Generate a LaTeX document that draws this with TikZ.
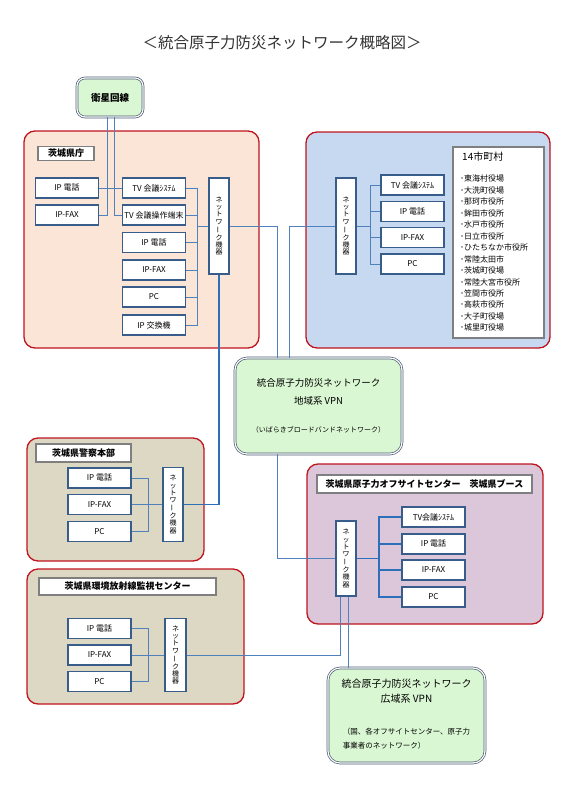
\documentclass[tikz,border=0pt]{standalone}
\usepackage{fontspec}
\setmainfont{Noto Sans CJK JP}
\usepackage{tikz}
\definecolor{vermelho}{HTML}{C0141E}
\definecolor{pessego}{HTML}{FBE5D6}
\definecolor{azulclaro}{HTML}{C6D9F1}
\definecolor{caqui}{HTML}{DDD8C4}
\definecolor{malva}{HTML}{DCC6DA}
\definecolor{verdeclaro}{HTML}{DAF7D3}
\definecolor{ardosia}{HTML}{4A5A70}
\definecolor{azulbox}{HTML}{385D8A}
\definecolor{azulfio}{HTML}{4F81BD}
\definecolor{azulforte}{HTML}{2E6FBA}
\definecolor{cinza}{HTML}{7F7F7F}
\definecolor{texto}{HTML}{333333}
\tikzstyle{regiao}=[draw=vermelho, line width=1.3pt, rounded corners=11pt, inner sep=0pt]
\tikzstyle{caixa}=[draw=azulbox, line width=1.4pt, fill=white, minimum width=63pt, minimum height=20pt, inner sep=0pt, font=\fontsize{8}{9}\selectfont]
\tikzstyle{rede}=[caixa, minimum width=20pt, align=center, font=\fontsize{7}{7.3}\selectfont]
\tikzstyle{rotulo}=[draw=cinza, line width=1.5pt, fill=white, inner sep=0pt, font=\bfseries\fontsize{9}{10}\selectfont]
\tikzstyle{lista}=[draw=cinza, line width=1.5pt, fill=white, inner sep=0pt]
\tikzstyle{nuvem}=[draw=ardosia, double=white, double distance=1.2pt, line width=0.7pt, fill=verdeclaro, rounded corners=12pt, inner sep=0pt]
\tikzstyle{fio}=[draw=azulfio, line width=0.9pt]
\tikzstyle{fiogrosso}=[draw=azulforte, line width=1.3pt]
\newcommand{\redetexto}{ネ\\ッ\\ト\\ワ\\\rotatebox[origin=c]{90}{ー}\\ク\\機\\器}

\begin{document}
\begin{tikzpicture}[x=1pt,y=-1pt]
			\useasboundingbox (0,0) rectangle (565,800);
			\node[text=texto, font=\fontsize{15.5}{17}\selectfont] (titulo) at (282,43) {＜統合原子力防災ネットワーク概略図＞};
			% regioes
			\node[regiao, fill=pessego, minimum width=235pt, minimum height=217pt] (ken) at (141.5,239.5) {};
			\node[regiao, fill=azulclaro, minimum width=244pt, minimum height=216pt] (city) at (428,240) {};
			\node[regiao, fill=caqui, minimum width=177pt, minimum height=123pt] (pol) at (115.5,499.5) {};
			\node[regiao, fill=caqui, minimum width=217pt, minimum height=135pt] (env) at (135.5,636.5) {};
			\node[regiao, fill=malva, minimum width=236pt, minimum height=160pt] (ofc) at (425,544) {};
			% rotulos
			\node[rotulo, minimum width=56pt, minimum height=14pt] (kenL) at (66,153.5) {茨城県庁};
			\node[rotulo, minimum width=95pt, minimum height=18pt] (polL) at (83.5,453) {茨城県警察本部};
			\node[rotulo, minimum width=177pt, minimum height=17pt] (envL) at (127.5,586.5) {茨城県環境放射線監視センター};
			\node[rotulo, minimum width=215pt, minimum height=18pt] (ofcL) at (424.5,484) {茨城県原子力オフサイトセンター　茨城県ブース};
			% redes
			\node[nuvem, rounded corners=8pt, minimum width=66pt, minimum height=39pt, font=\bfseries\fontsize{9.5}{11}\selectfont] (sat) at (110,97.5) {衛星回線};
			\node[nuvem, minimum width=167pt, minimum height=96pt, align=center, font=\fontsize{9.5}{18}\selectfont] (vpnA) at (318.5,406) {統合原子力防災ネットワーク\\地域系 VPN\\[10pt]{\fontsize{7}{8}\selectfont （いばらきブロードバンドネットワーク）}};
			\node[nuvem, minimum width=157pt, minimum height=95pt, align=center, font=\fontsize{10}{15}\selectfont] (vpnB) at (406.5,715.5) {統合原子力防災ネットワーク\\広域系 VPN\\[17pt]{\fontsize{7.5}{14}\selectfont\begin{tabular}[t]{@{}l@{}}（国、各オフサイトセンター、原子力\\事業者のネットワーク）\end{tabular}}};
			% 茨城県庁
			\node[caixa] (kenTel) at (67,188) {IP 電話};
			\node[caixa] (kenFax) at (67,215) {IP-FAX};
			\node[caixa] (kenTva) at (154,188) {TV 会議ｼｽﾃﾑ};
			\node[caixa] (kenTvb) at (154,215) {TV 会議操作端末};
			\node[caixa] (kenTel2) at (154,242.5) {IP 電話};
			\node[caixa] (kenFax2) at (154,270) {IP-FAX};
			\node[caixa] (kenPc) at (154,297) {PC};
			\node[caixa] (kenIpx) at (154,325) {IP 交換機};
			\node[rede, minimum height=96pt] (kenN) at (219,226) {\redetexto};
			% 14市町村
			\node[rede, minimum height=96pt] (cityN) at (346,226) {\redetexto};
			\node[caixa] (cityTv) at (412.5,185) {TV 会議ｼｽﾃﾑ};
			\node[caixa] (cityTel) at (412.5,211.5) {IP 電話};
			\node[caixa] (cityFax) at (412.5,237.5) {IP-FAX};
			\node[caixa] (cityPc) at (412.5,264) {PC};
			\node[lista, minimum width=91pt, minimum height=191pt] (lista) at (498.5,242.5) {};
			\node[anchor=west, inner sep=0pt, font=\fontsize{10}{12}\selectfont] (listaT) at (462,157) {14市町村};
			\node[anchor=north west, align=left, inner sep=0pt, font=\fontsize{8}{11.46}\selectfont] (listaI) at (460,175) {･東海村役場\\･大洗町役場\\･那珂市役所\\･鉾田市役所\\･水戸市役所\\･日立市役所\\･ひたちなか市役所\\･常陸太田市\\･茨城町役場\\･常陸大宮市役所\\･笠間市役所\\･高萩市役所\\･大子町役場\\･城里町役場};
			% 警察本部
			\node[caixa] (polTel) at (99.5,478) {IP 電話};
			\node[caixa] (polFax) at (99.5,504.5) {IP-FAX};
			\node[caixa] (polPc) at (99.5,531.5) {PC};
			\node[rede, minimum height=74pt] (polN) at (173,504.5) {\redetexto};
			% 監視センター
			\node[caixa] (envTel) at (99.5,628.5) {IP 電話};
			\node[caixa] (envFax) at (99.5,655) {IP-FAX};
			\node[caixa] (envPc) at (99.5,681.5) {PC};
			\node[rede, minimum width=21pt, minimum height=73pt] (envN) at (175.5,655) {\redetexto};
			% オフサイトセンター
			\node[rede, minimum height=75pt] (ofcN) at (346,558.5) {\redetexto};
			\node[caixa] (ofcTv) at (433.5,517) {TV会議ｼｽﾃﾑ};
			\node[caixa] (ofcTel) at (433.5,544) {IP 電話};
			\node[caixa] (ofcFax) at (433.5,570) {IP-FAX};
			\node[caixa] (ofcPc) at (433.5,597) {PC};
			% ligacoes
			\coordinate (busA) at (197,226);
			\coordinate (busB) at (370,226);
			\coordinate (busC) at (148,504.5);
			\coordinate (busD) at (148,655);
			\coordinate (busE) at (379,558.5);
			\draw[fio] ([xshift=-3pt]sat.south) |- (kenFax.east) ([xshift=4pt]sat.south) |- (kenTvb.west) (kenTel.east) -- (kenTva.west);
			\draw[fio] (kenTva.east) -| (busA) (kenTvb.east) -| (busA) (kenTel2.east) -| (busA) (kenFax2.east) -| (busA) (kenPc.east) -| (busA) (kenIpx.east) -| (busA) -- (kenN.west);
			\draw[fio] (kenN.east) -| ([xshift=-41.5pt]vpnA.north) ([xshift=-29.5pt]vpnA.north) |- (cityN.west);
			\draw[fio] (cityTv.west) -| (busB) (cityTel.west) -| (busB) (cityFax.west) -| (busB) (cityPc.west) -| (busB) -- (cityN.east);
			\draw[fiogrosso] (kenN.south) |- (polN.east);
			\draw[fio] (polTel.east) -| (busC) (polPc.east) -| (busC) (polFax.east) -- (polN.west);
			\draw[fio] (envTel.east) -| (busD) (envPc.east) -| (busD) (envFax.east) -- (envN.west);
			\draw[fio] ([xshift=-41.5pt]vpnA.south) |- (ofcN.west);
			\draw[fiogrosso] (ofcTv.west) -| (busE) (ofcTel.west) -| (busE) (ofcFax.west) -| (busE) (ofcPc.west) -| (busE) -- (ofcN.east);
			\draw[fio] (envN.east) -| ([xshift=-6pt]ofcN.south) ([xshift=2pt]ofcN.south) -- ([xshift=2pt]ofcN.south |- vpnB.north);
		\end{tikzpicture}
\end{document}
